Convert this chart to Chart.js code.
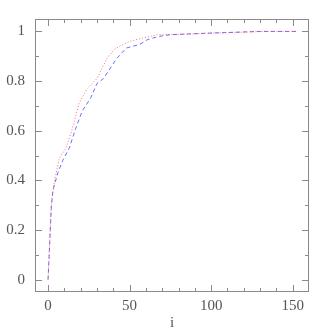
<!DOCTYPE html>
<html>
<head>
<meta charset="utf-8">
<script src="https://cdn.jsdelivr.net/npm/chart.js@4/dist/chart.umd.min.js"></script>
<style>
html, body { margin: 0; padding: 0; background: #fff; }
#wrap { width: 327px; height: 327px; }
</style>
</head>
<body>
<div id="wrap"><canvas id="c"></canvas></div>
<script>
// red dotted curve
var red_i = [0, 2, 4, 7, 11, 15, 19, 24, 30, 36, 41, 50, 58, 67, 78, 99, 134, 152];
var red_v = [0, 0.31, 0.40, 0.49, 0.53, 0.61, 0.71, 0.77, 0.81, 0.89, 0.93, 0.96, 0.973, 0.987, 0.987, 0.993, 1.0, 1.0];
// blue dashed curve
var blue_i = [0, 2, 3, 6, 9, 13, 17, 21, 26, 30, 34, 38, 42, 48, 56, 61, 68, 75, 99, 130, 152];
var blue_v = [0, 0.29, 0.36, 0.43, 0.48, 0.53, 0.61, 0.68, 0.73, 0.79, 0.81, 0.85, 0.89, 0.933, 0.947, 0.967, 0.98, 0.987, 0.993, 1.0, 1.0];

var x_ticks = [0, 50, 100, 150];
var y_ticks = [0, 0.2, 0.4, 0.6, 0.8, 1];
var x_minor = [0, 10, 20, 30, 40, 50, 60, 70, 80, 90, 100, 110, 120, 130, 140, 150];
var y_minor = [0, 0.1, 0.2, 0.3, 0.4, 0.5, 0.6, 0.7, 0.8, 0.9, 1.0];

function pts(xs, ys) {
    return xs.map(function (x, k) { return {x: x, y: ys[k]}; });
}

// frame + inward ticks on all four sides
const frame_ticks = {
    id: "frame_ticks",
    afterDatasetsDraw(chart) {
        const ctx = chart.ctx;
        const a = chart.chartArea;
        const sx = chart.scales.x, sy = chart.scales.y;
        ctx.save();
        ctx.strokeStyle = "#8a8a8a";
        ctx.lineWidth = 1;
        ctx.strokeRect(a.left + 0.5, a.top + 0.5, a.right - a.left - 1, a.bottom - a.top - 1);
        ctx.beginPath();
        x_minor.forEach(function (v) {
            const px = Math.round(sx.getPixelForValue(v)) + 0.5;
            const len = x_ticks.indexOf(v) >= 0 ? 7 : 4;
            ctx.moveTo(px, a.bottom); ctx.lineTo(px, a.bottom - len);
            ctx.moveTo(px, a.top); ctx.lineTo(px, a.top + len);
        });
        y_minor.forEach(function (v) {
            const py = Math.round(sy.getPixelForValue(v)) + 0.5;
            const major = y_ticks.some(function (t) { return Math.abs(t - v) < 1e-9; });
            const len = major ? 7 : 4;
            ctx.moveTo(a.left, py); ctx.lineTo(a.left + len, py);
            ctx.moveTo(a.right, py); ctx.lineTo(a.right - len, py);
        });
        ctx.stroke();
        ctx.restore();
    }
};

const font = {family: "'Liberation Serif', 'DejaVu Serif', serif", size: 15};

new Chart(document.getElementById("c"), {
    type: "scatter",
    data: {
        datasets: [
            {
                label: "red",
                data: pts(red_i, red_v),
                showLine: true,
                borderColor: "rgba(255,60,60,0.75)",
                borderWidth: 1,
                borderDash: [1, 2],
                pointRadius: 0,
                tension: 0,
            },
            {
                label: "blue",
                data: pts(blue_i, blue_v),
                showLine: true,
                borderColor: "rgba(60,60,255,0.75)",
                borderWidth: 1,
                borderDash: [4, 3],
                pointRadius: 0,
                tension: 0,
            },
        ]
    },
    options: {
        responsive: true,
        maintainAspectRatio: false,
        animation: false,
        layout: {padding: {left: 0, top: 17, right: 18, bottom: 0}},
        plugins: {
            legend: {display: false},
            tooltip: {enabled: false},
        },
        scales: {
            x: {
                type: "linear",
                min: -8,
                max: 160,
                border: {display: false},
                grid: {display: false, drawTicks: false},
                afterBuildTicks: function (s) { s.ticks = x_ticks.map(function (v) { return {value: v}; }); },
                afterFit: function (s) { s.height = 35; },
                ticks: {color: "#555", font: font, padding: 5, maxRotation: 0,
                        callback: function (v) { return String(v); }},
                title: {display: true, text: "i", color: "#555", font: font, padding: {top: 0, bottom: -5}},
            },
            y: {
                type: "linear",
                min: -0.05,
                max: 1.05,
                border: {display: false},
                grid: {display: false, drawTicks: false},
                afterBuildTicks: function (s) { s.ticks = y_ticks.map(function (v) { return {value: v}; }); },
                afterFit: function (s) { s.width = 35; },
                ticks: {color: "#555", font: font, padding: 10,
                        callback: function (v) { return String(v); }},
            }
        }
    },
    plugins: [frame_ticks]
});
</script>
</body>
</html>
